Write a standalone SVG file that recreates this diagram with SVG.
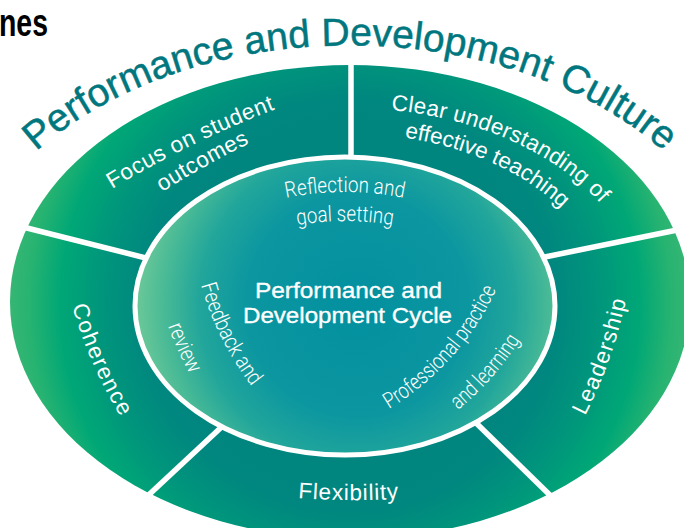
<svg xmlns="http://www.w3.org/2000/svg" width="684" height="528" viewBox="0 0 684 528">
<style>
.lbl{fill:#fff;font-family:'Liberation Sans',Arial,sans-serif;font-size:22.5px}
.cond{fill:#fff;font-family:'Liberation Sans Narrow','Roboto','Liberation Sans',sans-serif;font-size:22px;font-weight:300}
.ctr{fill:#fff;stroke:#fff;stroke-width:0.35;font-family:'Liberation Sans',Arial,sans-serif;font-size:22px}
.title{fill:#00777e;stroke:#00777e;stroke-width:0.5;font-family:'Liberation Sans',Arial,sans-serif;font-size:39px}
.div{stroke:#fff;stroke-width:5.5;fill:none}
</style>
<defs>
<radialGradient id="ringGrad" gradientUnits="userSpaceOnUse" cx="350" cy="305" r="345">
<stop offset="0" stop-color="#007f80"/>
<stop offset="0.6" stop-color="#00877f"/>
<stop offset="0.72" stop-color="#00957c"/>
<stop offset="0.84" stop-color="#00a776"/>
<stop offset="0.93" stop-color="#27b371"/>
<stop offset="1" stop-color="#3ab774"/>
</radialGradient>
<radialGradient id="cycleGrad" gradientUnits="userSpaceOnUse" cx="357" cy="305" r="220">
<stop offset="0" stop-color="#03909f"/>
<stop offset="0.5" stop-color="#0b96a0"/>
<stop offset="0.72" stop-color="#22a69b"/>
<stop offset="0.87" stop-color="#47b996"/>
<stop offset="1" stop-color="#6ac898"/>
</radialGradient>
<path id="pTitle" d="M 22 165 A 396 272 0 0 1 678 165"/>
<path id="pFocus1" d="M 112 189 A 1000 1000 0 0 1 273 110"/>
<path id="pFocus2" d="M 162 192 A 1000 1000 0 0 1 250 143"/>
<path id="pClear1" d="M 391 110 A 292 197 0 0 1 600 203"/>
<path id="pClear2" d="M 404.5 137.6 A 262 172 0 0 1 563 210"/>
<path id="pCoh" d="M 72 306 A 480 480 0 0 0 123 421"/>
<path id="pLead" d="M 585 416 A 480 480 0 0 0 627 295"/>
<path id="pFlex" d="M 298 498 A 700 700 0 0 0 408 498"/>
<path id="pRefl1" d="M 225 218.6 A 187 114 0 0 1 465 218.6"/>
<path id="pRefl2" d="M 205 265 A 160 85 0 0 1 485 265"/>
<path id="pFb1" d="M 201 285 A 300 300 0 0 0 253 388"/>
<path id="pFb2" d="M 168 326 A 320 320 0 0 0 194 381"/>
<path id="pProf1" d="M 389 409 A 277 277 0 0 0 497 288"/>
<path id="pProf2" d="M 458 410 A 300 300 0 0 0 520 340"/>
</defs>

<text x="-1" y="36" font-family="'Liberation Sans',Arial,sans-serif" font-weight="bold" font-size="38" fill="#000" textLength="49" lengthAdjust="spacingAndGlyphs">nes</text>

<g id="culture-ring">
<ellipse cx="350" cy="302" rx="340" ry="237" fill="url(#ringGrad)"/>
</g>

<g id="connectors">
<line class="div" x1="351" y1="55" x2="351" y2="165"/>
<line class="div" x1="15" y1="225" x2="150" y2="259"/>
<line class="div" x1="540" y1="258" x2="692" y2="227"/>
<line class="div" x1="140" y1="503" x2="228" y2="421"/>
<line class="div" x1="470" y1="417" x2="558" y2="503"/>
</g>

<g id="cycle">
<ellipse cx="345" cy="306" rx="210" ry="149" fill="url(#cycleGrad)" stroke="#fff" stroke-width="5"/>
<text class="ctr" x="348.5" y="298" text-anchor="middle" textLength="187" lengthAdjust="spacingAndGlyphs">Performance and</text>
<text class="ctr" x="347.5" y="323" text-anchor="middle" textLength="209" lengthAdjust="spacingAndGlyphs">Development Cycle</text>
</g>

<g id="title">
<text class="title"><textPath href="#pTitle" startOffset="50%" text-anchor="middle">Performance and Development Culture</textPath></text>
</g>

<g id="focus">
<text class="lbl" letter-spacing="0.6"><textPath href="#pFocus1">Focus on student</textPath></text>
<text class="lbl" letter-spacing="0.4"><textPath href="#pFocus2">outcomes</textPath></text>
</g>

<g id="clear">
<text class="lbl" letter-spacing="0.3"><textPath href="#pClear1">Clear understanding of</textPath></text>
<text class="lbl"><textPath href="#pClear2">effective teaching</textPath></text>
</g>

<g id="coherence">
<text class="lbl" letter-spacing="1.4"><textPath href="#pCoh">Coherence</textPath></text>
</g>

<g id="leadership">
<text class="lbl" letter-spacing="1.3"><textPath href="#pLead">Leadership</textPath></text>
</g>

<g id="flexibility">
<text class="lbl" letter-spacing="0.8"><textPath href="#pFlex">Flexibility</textPath></text>
</g>

<g id="reflection">
<text class="cond"><textPath href="#pRefl1" startOffset="50%" text-anchor="middle" textLength="118" lengthAdjust="spacingAndGlyphs">Reflection and</textPath></text>
<text class="cond"><textPath href="#pRefl2" startOffset="50%" text-anchor="middle" textLength="96" lengthAdjust="spacingAndGlyphs">goal setting</textPath></text>
</g>

<g id="feedback">
<text class="cond"><textPath href="#pFb1" textLength="114" lengthAdjust="spacingAndGlyphs">Feedback and</textPath></text>
<text class="cond"><textPath href="#pFb2" textLength="53" lengthAdjust="spacingAndGlyphs">review</textPath></text>
</g>

<g id="professional">
<text class="cond"><textPath href="#pProf1" textLength="163" lengthAdjust="spacingAndGlyphs">Professional practice</textPath></text>
<text class="cond"><textPath href="#pProf2" textLength="94" lengthAdjust="spacingAndGlyphs">and learning</textPath></text>
</g>
</svg>
